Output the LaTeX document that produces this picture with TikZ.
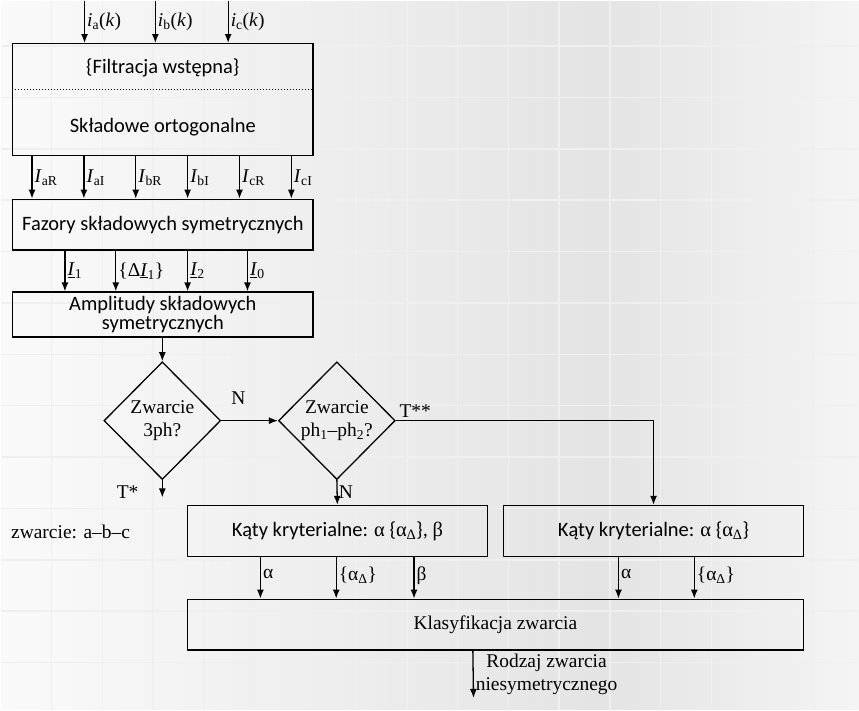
\documentclass[tikz,border=0pt]{standalone}
\usepackage{fontspec}
\setmainfont{Liberation Serif}
\newfontfamily\calibri{Carlito}
\usepackage{tikz}
\usetikzlibrary{shapes.geometric,arrows.meta}

\definecolor{siatkakolor}{RGB}{239,239,239}

\tikzset{
  blok/.style={draw, minimum width=301, minimum height=51, font=\calibri\fontsize{20.5}{24}\selectfont, align=center},
  romb/.style={diamond, draw, aspect=1, inner sep=0pt, minimum width=117, minimum height=118},
  opis/.style={right, inner sep=2pt},
  siatka/.style={draw=siatkakolor, line width=1.5pt}
}

\begin{document}
\begin{tikzpicture}[>={Latex[length=9pt,width=7pt]}, x=1pt, y=-1pt, line width=1.3pt, font=\fontsize{19.5}{23}\selectfont]
	%Tlo
	\foreach \i in {0,...,85} {
		\pgfmathsetmacro\v{\i<60 ? 0.98-0.086*(\i*10+5)/600 : 0.894+0.063*(\i*10-595)/259}
		\definecolor{tlo}{gray}{\v}
		\fill [tlo] (\i*10,0) rectangle (\i*10+10.5,711);
	}
	\foreach \k in {1,...,16}
		\draw [siatka] (\k*50.9,0) -- (\k*50.9,711);
	\foreach \k in {-3,...,9}
		\draw [siatka] (0,200+\k*51.5) -- (859,200+\k*51.5);
	\useasboundingbox (0,0) rectangle (859,711);
	%Blok wejsciowy
	\node [blok, minimum height=112] (filtr) at (162.5,99) {};
	\node [font=\calibri\fontsize{20.5}{24}\selectfont] (filtrA) at (162.5,67) {\{Filtracja wstępna\}};
	\node [font=\calibri\fontsize{20.5}{24}\selectfont] (filtrB) at (162.5,127) {Składowe ortogonalne};
	\draw [dotted, line width=1pt] ([yshift=-47]filtr.north west) -- ([yshift=-47]filtr.north east);
	\coordinate (wA) at (84,0);
	\coordinate (wB) at (155,0);
	\coordinate (wC) at (228,0);
	\draw [->] (wA) -- (wA |- filtr.north) node [pos=0.5, opis] (iA) {\textit{i}\textsubscript{a}(\textit{k})};
	\draw [->] (wB) -- (wB |- filtr.north) node [pos=0.5, opis] (iB) {\textit{i}\textsubscript{b}(\textit{k})};
	\draw [->] (wC) -- (wC |- filtr.north) node [pos=0.5, opis] (iC) {\textit{i}\textsubscript{c}(\textit{k})};
	%Fazory
	\node [blok] (fazory) at (162.5,224.5) {Fazory składowych symetrycznych};
	\draw [->] ([xshift=20]filtr.south west) -- ([xshift=20]fazory.north west) node [pos=0.5, opis] (IaR) {\textit{I}\textsubscript{aR}};
	\draw [->] ([xshift=72]filtr.south west) -- ([xshift=72]fazory.north west) node [pos=0.5, opis] (IaI) {\textit{I}\textsubscript{aI}};
	\draw [->] ([xshift=124]filtr.south west) -- ([xshift=124]fazory.north west) node [pos=0.5, opis] (IbR) {\textit{I}\textsubscript{bR}};
	\draw [->] ([xshift=176]filtr.south west) -- ([xshift=176]fazory.north west) node [pos=0.5, opis] (IbI) {\textit{I}\textsubscript{bI}};
	\draw [->] ([xshift=228]filtr.south west) -- ([xshift=228]fazory.north west) node [pos=0.5, opis] (IcR) {\textit{I}\textsubscript{cR}};
	\draw [->] ([xshift=280]filtr.south west) -- ([xshift=280]fazory.north west) node [pos=0.5, opis] (IcI) {\textit{I}\textsubscript{cI}};
	%Amplitudy
	\node [blok, minimum height=45, inner sep=1pt] (ampl) at (162.5,314.5) {Amplitudy składowych\\[-5pt]symetrycznych};
	\draw [->] ([xshift=53]fazory.south west) -- ([xshift=53]ampl.north west) node [pos=0.5, opis] (I1) {\underline{\textit{I}}\textsubscript{1}};
	\draw [->] ([xshift=104]fazory.south west) -- ([xshift=104]ampl.north west) node [pos=0.5, opis] (dI1) {\{Δ\underline{\textit{I}}\textsubscript{1}\}};
	\draw [->] ([xshift=176]fazory.south west) -- ([xshift=176]ampl.north west) node [pos=0.5, opis] (I2) {\underline{\textit{I}}\textsubscript{2}};
	\draw [->] ([xshift=236]fazory.south west) -- ([xshift=236]ampl.north west) node [pos=0.5, opis] (I0) {\underline{\textit{I}}\textsubscript{0}};
	%Decyzje
	\node [romb] (zw3) at (162,421) {};
	\node [align=center] (zw3t) at (zw3) {Zwarcie\\3ph?};
	\node [romb] (zw2) at (337,421) {};
	\node [align=center] (zw2t) at (zw2) {Zwarcie\\ph\textsubscript{1}–ph\textsubscript{2}?};
	\draw [->] (ampl.south -| zw3.north) -- (zw3.north);
	\draw [->] (zw3.east) -- (zw2.west) node [pos=0.3, above=12pt] (N1) {N};
	\coordinate (tkon) at (162,498);
	\draw [->] (zw3.south) -- (tkon) node [pos=0.7, left=20pt] (T1) {T*};
	\node (abc) at (70,533) {zwarcie: a–b–c};
	%Katy kryterialne
	\node [blok] (katy1) at (337.5,531.5) {Kąty kryterialne: {\rmfamily α} \{{\rmfamily α\textsubscript{Δ}}\}, {\rmfamily β}};
	\node [blok] (katy2) at (654.5,531.5) {Kąty kryterialne: {\rmfamily α} \{{\rmfamily α\textsubscript{Δ}}\}};
	\draw [->] (zw2.south) -- (katy1.north) node [pos=0.5, opis, inner sep=1pt] (N2) {N};
	\draw [->] (zw2.east) -| (katy2.north) node [pos=0, above right, inner sep=3pt] (T2) {T**};
	%Klasyfikacja
	\node [blok, minimum width=618, font=\fontsize{19.5}{23}\selectfont] (klas) at (496,625.5) {Klasyfikacja zwarcia};
	\coordinate (k1a) at ([xshift=74]katy1.south west);
	\coordinate (k1b) at ([xshift=150]katy1.south west);
	\coordinate (k1c) at ([xshift=228]katy1.south west);
	\coordinate (k2a) at ([xshift=116]katy2.south west);
	\coordinate (k2b) at ([xshift=192]katy2.south west);
	\draw [->] (k1a) -- (k1a |- klas.north) node [pos=0.4, opis] (a1) {α};
	\draw [->] (k1b) -- (k1b |- klas.north) node [pos=0.45, opis] (ad1) {\{α\textsubscript{Δ}\}};
	\draw [->] (k1c) -- (k1c |- klas.north) node [pos=0.45, opis] (b1) {β};
	\draw [->] (k2a) -- (k2a |- klas.north) node [pos=0.4, opis] (a2) {α};
	\draw [->] (k2b) -- (k2b |- klas.north) node [pos=0.45, opis] (ad2) {\{α\textsubscript{Δ}\}};
	\coordinate (wyj) at (474,699);
	\draw [->] ([xshift=287]klas.south west) -- (wyj) node [pos=0.5, opis, align=center] (rodzaj) {Rodzaj zwarcia\\niesymetrycznego};
\end{tikzpicture}
\end{document}
